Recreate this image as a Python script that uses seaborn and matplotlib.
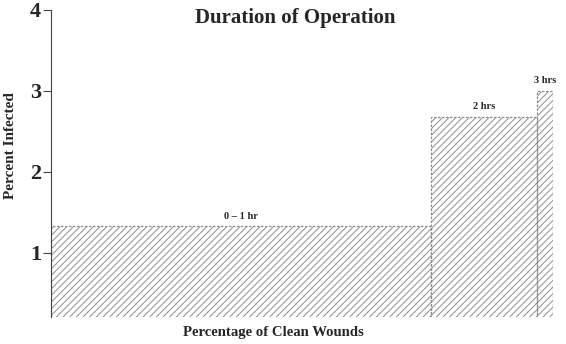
import numpy as np
import matplotlib
matplotlib.use("Agg")
import matplotlib.pyplot as plt
from matplotlib.colors import to_rgba
import seaborn as sns

# Infection rate by duration of operation; bar width = share of clean wounds
durations = ["0 \u2013 1 hr", "2 hrs", "3 hrs"]
share_of_wounds = [75.8, 21.0, 3.2]      # percent of clean wounds
percent_infected = [1.33, 2.68, 3.0]     # percent infected

sns.set_theme(style="white")
plt.rcParams["font.family"] = ["Liberation Serif", "DejaVu Serif"]
plt.rcParams["hatch.color"] = "#8e8e8e"
plt.rcParams["hatch.linewidth"] = 0.7

edges = np.concatenate([[0], np.cumsum(share_of_wounds)])
centers = (edges[:-1] + edges[1:]) / 2

fig = plt.figure(figsize=(5.66, 3.44), dpi=100)
ax = fig.add_axes([0.090, 0.0785, 0.887, 0.8925])

sns.histplot(x=centers, weights=percent_infected, bins=edges.tolist(), ax=ax,
             stat="count", fill=False, hatch="/////", color="#8e8e8e",
             edgecolor="#484848", linewidth=0.9, linestyle=(0, (2, 1.2)))

# grey hatching inside the bars
for p in ax.patches:
    if hasattr(p, "set_hatchcolor"):
        p.set_hatchcolor("#8e8e8e")
    else:
        p._hatch_color = to_rgba("#8e8e8e")

for c, h, lab in zip(centers, percent_infected, durations):
    ax.text(c, h + 0.07, lab, ha="center", va="bottom",
            fontsize=7.5, fontweight="bold")

ax.set_xlim(0, 100)
ax.set_ylim(0.21, 4)
ax.set_yticks([1, 2, 3, 4])
ax.set_yticklabels(["1", "2", "3", "4"], fontsize=16, fontweight="bold")
ax.set_xticks([])
ax.tick_params(axis="y", direction="out", length=6, width=0.8,
               color="#444444", pad=1, left=True)
for s in ["top", "right", "bottom"]:
    ax.spines[s].set_visible(False)
ax.spines["left"].set_color("#444444")
ax.spines["left"].set_linewidth(0.8)

ax.set_ylabel("Percent Infected", fontsize=11, fontweight="bold")
ax.yaxis.set_label_coords(-0.068, 0.56)
ax.set_xlabel("Percentage of Clean Wounds", fontsize=10.6, fontweight="bold")
ax.xaxis.set_label_coords(0.444, -0.03)
fig.text(0.521, 0.948, "Duration of Operation", ha="center", va="center",
         fontsize=15, fontweight="bold")

fig.savefig("out.png", dpi=100)
